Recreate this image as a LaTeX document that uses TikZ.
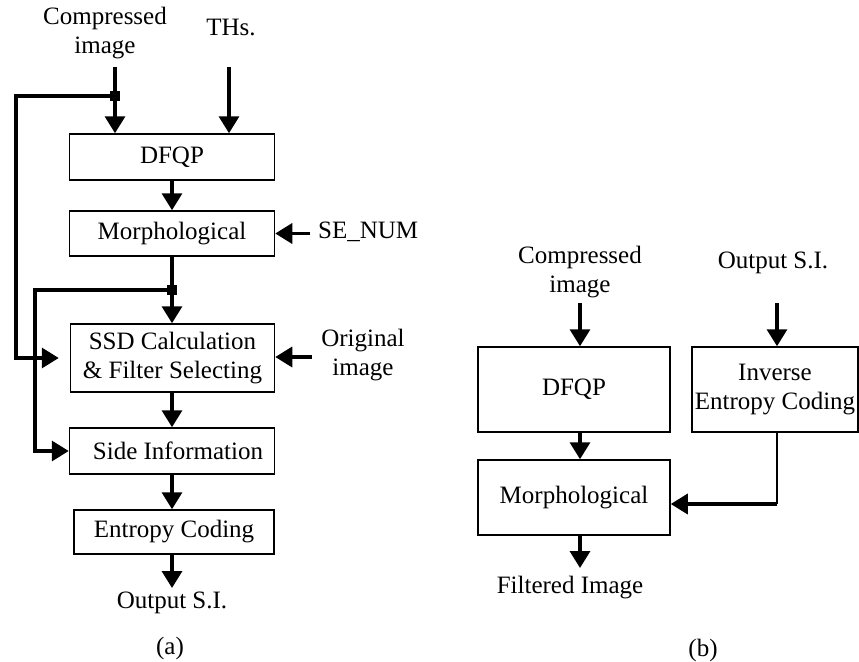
\documentclass[tikz,border=0pt]{standalone}
\usepackage{fontspec}
\setmainfont{Liberation Serif}
\usetikzlibrary{arrows.meta}
\begin{document}
\begin{tikzpicture}[x=1pt,y=-1pt,>={Triangle[width=20pt,length=17pt]},
  blk/.style={draw,line width=1.5pt,inner sep=0pt,align=center},
  lbl/.style={align=center,inner sep=0pt},
  flow/.style={->,line width=3.4pt},
  dot/.style={fill,rectangle,minimum size=10pt,inner sep=0pt},
  font=\fontsize{25}{29}\selectfont]
\useasboundingbox (0,0) rectangle (859,661);
\node[blk,minimum width=205pt,minimum height=46pt] (dfqpA) at (172,157) {DFQP};
\node[blk,minimum width=205pt,minimum height=45pt] (morphA) at (172,233.5) {Morphological};
\node[blk,minimum width=204pt,minimum height=68pt] (ssd) at (172.5,358) {SSD Calculation\\\& Filter Selecting};
\node[blk,minimum width=205pt,minimum height=46pt] (side) at (172,451) {\hspace{12pt}Side Information};
\node[blk,minimum width=200pt,minimum height=44pt] (entA) at (174,532) {Entropy Coding};
\node[lbl] (cimgA) at (105,33) {Compressed\\image};
\node[lbl] (ths) at (231,27) {THs.};
\node[lbl,anchor=west] (senum) at (318,232) {SE\_NUM};
\node[lbl] (origA) at (363,355) {Original\\image};
\node[lbl] (outA) at (172,603) {Output S.I.};
\node[lbl] (capA) at (170,648) {(a)};
\coordinate (inA) at (115,67);
\coordinate (inT) at (229,67);
\coordinate (jA) at (115,96);
\coordinate (jB) at (172,290);
\coordinate (inS) at (310,233.5);
\coordinate (inO) at (312,357);
\coordinate (endA) at (172,588);
\draw[flow] (inA) -- (inA |- dfqpA.north);
\draw[flow] (inT) -- (inT |- dfqpA.north);
\draw[flow] (dfqpA) -- (morphA);
\draw[flow] (morphA.south) -- (morphA.south |- ssd.north);
\draw[flow] (ssd.south -| jB) -- (jB |- side.north);
\draw[flow] (side.south) -- (side.south |- entA.north);
\draw[flow] (entA.south -| jB) -- (endA);
\draw[flow,shorten >=11pt] (jA) -- ++(-99,0) |- (ssd.west);
\draw[flow] (jB) -- ++(-137,0) |- (side.west);
\node[dot] (dA) at (jA) {};
\node[dot] (dB) at (jB) {};
\draw[flow] (inS) -- (inS -| morphA.east);
\draw[flow] (inO) -- (inO -| ssd.east);
\node[lbl] (cimgB) at (580,272) {Compressed\\image};
\node[lbl] (outB) at (773,263) {Output S.I.};
\node[blk,minimum width=192pt,minimum height=85pt] (dfqpB) at (574,389.5) {DFQP};
\node[blk,minimum width=166pt,minimum height=85pt] (inv) at (775,389.5) {Inverse\\Entropy Coding};
\node[blk,minimum width=192pt,minimum height=75pt] (morphB) at (574,497.5) {Morphological};
\node[lbl] (filt) at (570,588) {Filtered Image};
\node[lbl] (capB) at (703,650) {(b)};
\coordinate (inB) at (580,303);
\coordinate (inI) at (777,303);
\coordinate (endB) at (580,568);
\coordinate (bend) at (777,504);
\draw[flow] (inB) -- (inB |- dfqpB.north);
\draw[flow] (inI) -- (inI |- inv.north);
\draw[flow] (dfqpB.south -| inB) -- (inB |- morphB.north);
\draw[line width=1.5pt] (inv.south -| inI) -- (bend);
\draw[flow] (bend) -- (bend -| morphB.east);
\draw[flow] (morphB.south -| inB) -- (endB);
\end{tikzpicture}
\end{document}
